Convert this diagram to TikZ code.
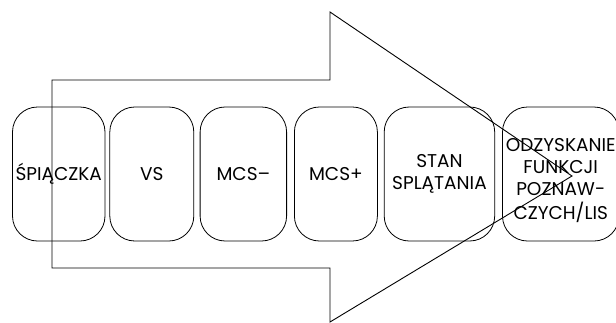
\documentclass[tikz,border=0pt]{standalone}
\usepackage{fontspec}
\setmainfont{Poppins}
\usetikzlibrary{positioning}

\begin{document}
\begin{tikzpicture}[x=1pt,y=-1pt,
		stagebox/.style={draw,line width=0.8pt,rounded corners=25pt,minimum height=134pt,inner sep=0pt,align=center,
			font=\fontsize{18.5}{22}\selectfont}]
		\useasboundingbox (0,0) rectangle (616,322);

		% big arrow
		\draw[line width=0.9pt] (52,80) -- (330,80) -- (330,12) -- (572,176) -- (330,322)
			-- (330,268) -- (52,268) -- cycle;

		\node[stagebox,minimum width=92.5pt]							(coma)		at (58.75,174)	{ŚPIĄCZKA};
		\node[stagebox,minimum width=84pt,node distance=4pt,right=of coma]		(vs)		{VS};
		\node[stagebox,minimum width=86.5pt,node distance=5.5pt,right=of vs]		(mcsminus)	{MCS–};
		\node[stagebox,minimum width=83pt,node distance=7pt,right=of mcsminus]	(mcsplus)	{MCS+};
		\node[stagebox,minimum width=110.5pt,node distance=6pt,right=of mcsplus]	(confusion)	{STAN\\SPLĄTANIA};
		\node[stagebox,minimum width=116.5pt,node distance=7pt,right=of confusion]	(recovery)	{\raisebox{-7pt}[\height][\depth]{\begin{tabular}{@{}c@{}}ODZYSKANIE\\FUNKCJI\\POZNAW-\\CZYCH/LIS\end{tabular}}};
	\end{tikzpicture}
\end{document}
